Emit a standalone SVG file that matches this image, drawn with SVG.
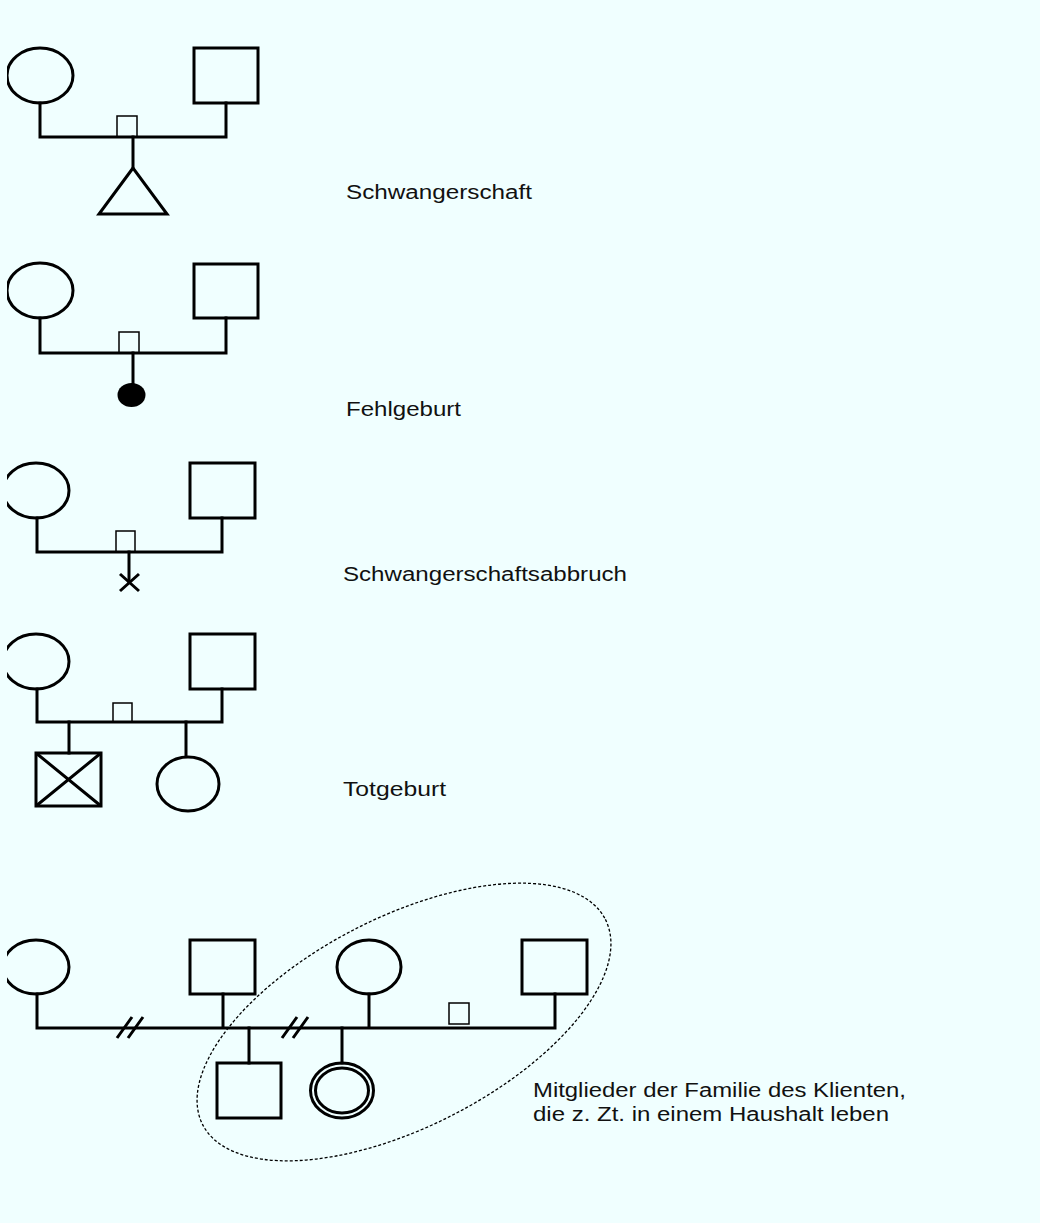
<svg xmlns="http://www.w3.org/2000/svg" width="1040" height="1223" viewBox="0 0 1040 1223">
<style>
.s{fill:none;stroke:#000;stroke-width:3}
.t{fill:none;stroke:#000;stroke-width:1.5}
.l{fill:none;stroke:#000;stroke-width:3;stroke-linecap:square}
.txt{font-family:"Liberation Sans",Arial,sans-serif;font-size:20px;fill:#111}
.dot{fill:none;stroke:#000;stroke-width:1.3;stroke-dasharray:3 2}
</style>
<defs>
<clipPath id="c"><rect x="7" y="0" width="1033" height="1223"/></clipPath>
</defs>
<rect width="1040" height="1223" fill="#F0FFFF"/>
<g clip-path="url(#c)">
<g id="connectors">
<path class="l" d="M40 103V137H226V103"/>
<path class="l" d="M133 137V168"/>
<path class="l" d="M40 318V353H226V318"/>
<path class="l" d="M133 353V385"/>
<path class="l" d="M37 518V552H222V518"/>
<path class="l" d="M129 552V582"/>
<path class="l" d="M37 689V722H222V689"/>
<path class="l" d="M69 722V753M186 722V756"/>
<path class="l" d="M37 994V1028H555V994M223 994V1028M369 994V1028"/>
<path class="l" d="M249 1028V1063M342 1028V1063"/>
<path class="s" d="M117 1038L132 1017M128 1038L143 1017"/>
<path class="s" d="M282 1038L297 1017M293 1038L308 1017"/>
</g>
<g id="row1">
<ellipse class="s" cx="40" cy="75.5" rx="33" ry="27.5"/>
<rect class="s" x="194" y="48" width="64" height="55"/>
<rect class="t" x="117" y="116" width="20" height="21"/>
<polygon class="s" points="133,168 99,214 167,214"/>
</g>
<g id="row2">
<ellipse class="s" cx="40" cy="290.5" rx="33" ry="27.5"/>
<rect class="s" x="194" y="264" width="64" height="54"/>
<rect class="t" x="119" y="332" width="20" height="21"/>
<ellipse cx="131.5" cy="395" rx="14" ry="12" fill="#000"/>
</g>
<g id="row3">
<ellipse class="s" cx="36" cy="490.5" rx="33" ry="27.5"/>
<rect class="s" x="190" y="463" width="65" height="55"/>
<rect class="t" x="116" y="531" width="19" height="21"/>
<path class="s" d="M120 574L139 591M139 574L120 591"/>
</g>
<g id="row4">
<ellipse class="s" cx="36" cy="661.5" rx="33" ry="27.5"/>
<rect class="s" x="190" y="634" width="65" height="55"/>
<rect class="t" x="113" y="703" width="19" height="19"/>
<rect class="s" x="36" y="753" width="65" height="53"/>
<path class="s" d="M36 753L101 806M101 753L36 806"/>
<ellipse class="s" cx="188" cy="784" rx="31" ry="27"/>
</g>
<g id="row5">
<ellipse class="s" cx="36" cy="967" rx="33" ry="27"/>
<rect class="s" x="190" y="940" width="65" height="54"/>
<ellipse class="s" cx="369" cy="967" rx="32" ry="27"/>
<rect class="s" x="522" y="940" width="65" height="54"/>
<rect class="t" x="449" y="1003" width="20" height="21"/>
<rect class="s" x="217" y="1063" width="64" height="55"/>
<ellipse class="s" cx="342" cy="1090.5" rx="31.5" ry="27.5"/>
<ellipse class="s" cx="342" cy="1090.5" rx="26.5" ry="22.5"/>
</g>
<g id="household">
<ellipse class="dot" cx="0" cy="0" rx="226" ry="105" transform="translate(404 1022) rotate(-27)"/>
</g>
</g>
<g id="labels">
<text class="txt" x="346" y="199" textLength="186" lengthAdjust="spacingAndGlyphs">Schwangerschaft</text>
<text class="txt" x="346" y="416" textLength="115" lengthAdjust="spacingAndGlyphs">Fehlgeburt</text>
<text class="txt" x="343" y="581" textLength="284" lengthAdjust="spacingAndGlyphs">Schwangerschaftsabbruch</text>
<text class="txt" x="343" y="796" textLength="103" lengthAdjust="spacingAndGlyphs">Totgeburt</text>
<text class="txt" x="533" y="1097" textLength="373" lengthAdjust="spacingAndGlyphs">Mitglieder der Familie des Klienten,</text>
<text class="txt" x="533" y="1121" textLength="356" lengthAdjust="spacingAndGlyphs">die z. Zt. in einem Haushalt leben</text>
</g>
</svg>
